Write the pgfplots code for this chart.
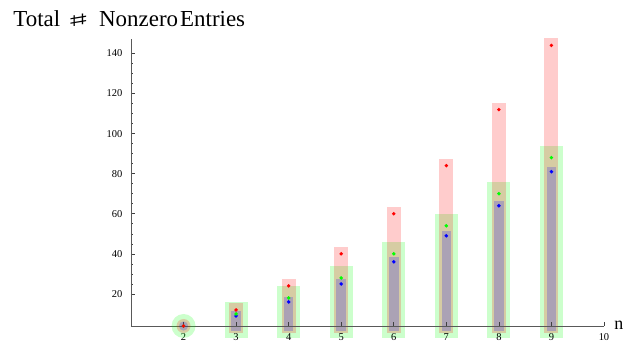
\documentclass[border=0pt]{standalone}
\usepackage{fontspec}
\setmainfont{Liberation Serif}
\newfontfamily\symbolfont{DejaVu Sans}
\usepackage{graphicx}
\usepackage{pgfplots}
\usepackage{pgfplotstable}
\pgfplotsset{compat=1.18}

% total number of nonzero entries for matrix size n
\pgfplotstableread{
n red green blue
2 4 4 4
3 12 10 9
4 24 18 16
5 40 28 25
6 60 40 36
7 84 54 49
8 112 70 64
9 144 88 81
}\entries

\begin{document}
\begin{tikzpicture}
\useasboundingbox (-131bp,-19bp) rectangle (493bp,326bp);
\begin{axis}[
  at={(0,0)}, anchor=south west,
  scale only axis, width=473bp, height=287bp,
  xmin=1, xmax=10, ymin=4, ymax=147.2,
  axis lines*=left,
  axis line style={draw=black!65, line width=0.8bp},
  clip=false,
  axis on top,
  xtick={2,...,10}, ytick={20,40,...,140},
  minor y tick num=3,
  tick align=inside,
  major tick length=4bp, minor tick length=2.5bp,
  tick style={black!75, line width=0.6bp},
  /pgf/number format/assume math mode=true,
  tick label style={font=\fontsize{10.5}{12}\selectfont},
  xticklabel style={yshift=-4.3bp},
  yticklabel style={xshift=-5.2bp},
  xlabel={n},
  xlabel style={at={(rel axis cs:1,0)}, anchor=base west, inner sep=0pt,
    xshift=10.3bp, yshift=-3bp, font=\fontsize{18}{21}\selectfont},
  disc/.style={only marks, mark=*, forget plot, skip coords between index={1}{8},
    line width=0pt, draw opacity=0, fill opacity=0.2},
  dot/.style={only marks, mark=*, mark size=1.9bp, line width=0pt, draw opacity=0},
]
% thick translucent bars from the baseline up to each value
\addplot[draw=none, forget plot, skip coords between index={0}{1},
  error bars/.cd, y dir=minus, y explicit, error mark=none,
  error bar style={line width=23bp, line cap=rect, draw=green, draw opacity=0.2}]
  table[x=n, y=green, y error expr=\thisrow{green}-4] {\entries};
\addplot[draw=none, forget plot, skip coords between index={0}{1},
  error bars/.cd, y dir=minus, y explicit, error mark=none,
  error bar style={line width=14bp, line cap=rect, draw=red, draw opacity=0.2}]
  table[x=n, y=red, y error expr=\thisrow{red}-4] {\entries};
\addplot[draw=none, forget plot, skip coords between index={0}{1},
  error bars/.cd, y dir=minus, y explicit, error mark=none,
  error bar style={line width=9.5bp, line cap=rect, draw=blue, draw opacity=0.2}]
  table[x=n, y=blue, y error expr=\thisrow{blue}-4] {\entries};
% n = 2: the bars collapse to discs
\addplot[disc, green, mark size=12bp] table[x=n, y=green] {\entries};
\addplot[disc, red, mark size=7bp] table[x=n, y=red] {\entries};
\addplot[disc, blue, mark size=4.6bp] table[x=n, y=blue] {\entries};
% the values themselves
\addplot[dot, blue] table[x=n, y=blue] {\entries};
\addplot[dot, green] table[x=n, y=green] {\entries};
\addplot[dot, red] table[x=n, y=red] {\entries};
\end{axis}
\begin{scope}[every node/.style={inner sep=0pt, font=\fontsize{23}{27}\selectfont}]
\node[anchor=base west] at (-117.7bp,299.3bp) {Total};
\node[anchor=south] at (-52.7bp,299.3bp) {\resizebox*{24bp}{12.5bp}{\symbolfont ♯}};
\node[anchor=base west] at (-32bp,299.3bp) {Nonzero};
\node[anchor=base west] at (49bp,299.3bp) {Entries};
\end{scope}
\end{tikzpicture}
\end{document}
